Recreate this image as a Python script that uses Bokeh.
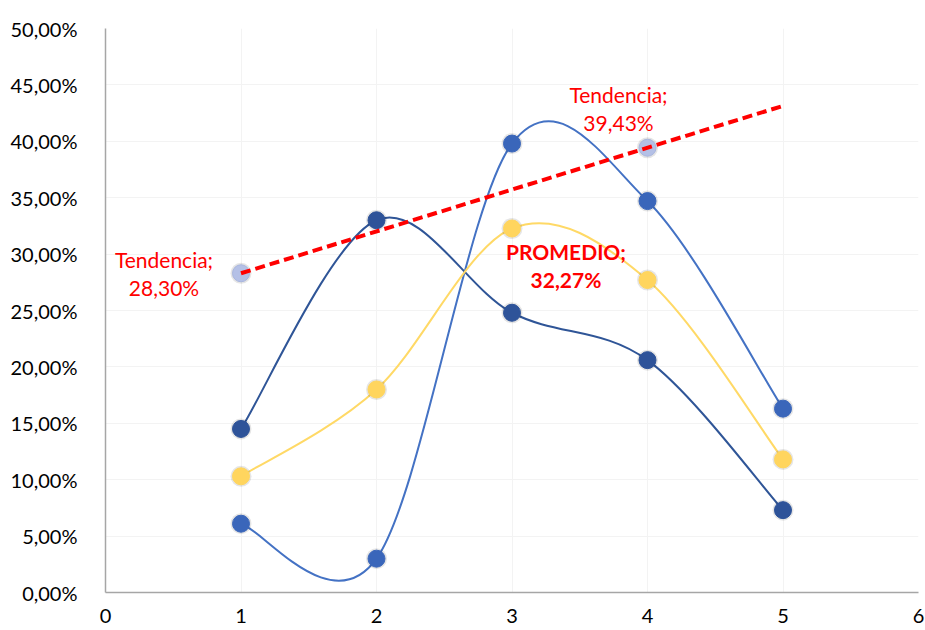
from bokeh.plotting import figure
from bokeh.models import FixedTicker, CustomJSTickFormatter, ColumnDataSource
from bokeh.core.properties import value
from bokeh.embed import file_html
from bokeh.resources import INLINE

x_vals = [1, 2, 3, 4, 5]
serie_a = [14.5, 33.0, 24.8, 20.6, 7.3]     # dark blue
serie_b = [6.1, 3.0, 39.8, 34.7, 16.3]      # medium blue
promedio = [10.3, 18.0, 32.27, 27.7, 11.8]  # yellow
trend_pts_x = [1, 4]
trend_pts_y = [28.30, 39.43]
trend_line_x = [1, 5]
trend_line_y = [28.30, 43.14]
y_ticks = [0, 5, 10, 15, 20, 25, 30, 35, 40, 45, 50]
x_ticks = [0, 1, 2, 3, 4, 5, 6]

FONT = "Lato"

p = figure(width=925, height=630, x_range=(0, 6), y_range=(0, 50),
           output_backend="svg", toolbar_location=None,
           min_border_left=105, min_border_right=7,
           min_border_top=28, min_border_bottom=38)
p.outline_line_color = None
p.background_fill_color = "white"

for ax in (p.xaxis[0], p.yaxis[0]):
    ax.axis_line_color = "#A6A6A6"
    ax.axis_line_width = 1.5
    ax.major_tick_line_color = None
    ax.minor_tick_line_color = None
    ax.major_label_text_font = FONT
    ax.major_label_text_font_size = "20px"
    ax.major_label_text_color = "#000000"

p.yaxis.ticker = FixedTicker(ticks=y_ticks)
p.xaxis.ticker = FixedTicker(ticks=x_ticks)
p.yaxis.formatter = CustomJSTickFormatter(code="return tick.toFixed(2).replace('.', ',') + '%';")
p.yaxis.major_label_standoff = 22
p.xaxis.major_label_standoff = 10

p.xgrid.grid_line_color = "#F3F3F3"
p.ygrid.grid_line_color = "#F3F3F3"
p.xgrid.ticker = FixedTicker(ticks=x_ticks)
p.ygrid.ticker = FixedTicker(ticks=y_ticks)


def smooth_segments(xs, ys):
    n = len(xs)
    d = dict(x0=[], y0=[], x1=[], y1=[], cx0=[], cy0=[], cx1=[], cy1=[])
    for i in range(n - 1):
        xp, yp = (xs[i - 1], ys[i - 1]) if i > 0 else (xs[i], ys[i])
        xn, yn = (xs[i + 2], ys[i + 2]) if i + 2 < n else (xs[i + 1], ys[i + 1])
        d["x0"].append(xs[i]); d["y0"].append(ys[i])
        d["x1"].append(xs[i + 1]); d["y1"].append(ys[i + 1])
        d["cx0"].append(xs[i] + (xs[i + 1] - xp) / 6)
        d["cy0"].append(ys[i] + (ys[i + 1] - yp) / 6)
        d["cx1"].append(xs[i + 1] - (xn - xs[i]) / 6)
        d["cy1"].append(ys[i + 1] - (yn - ys[i]) / 6)
    return ColumnDataSource(d)


series = [
    (serie_b, "#4472C4", "#3A66BA"),
    (serie_a, "#2F5597", "#2E5399"),
    (promedio, "#FFD966", "#FFD55E"),
]
for ys, lc, mc in series:
    p.bezier(x0="x0", y0="y0", x1="x1", y1="y1", cx0="cx0", cy0="cy0",
             cx1="cx1", cy1="cy1", source=smooth_segments(x_vals, ys),
             line_color=lc, line_width=2)

# marker shadows
for ys in (serie_b, serie_a, promedio, trend_pts_y):
    xs = trend_pts_x if ys is trend_pts_y else x_vals
    p.scatter(xs, ys, size=21, fill_color="#000000", fill_alpha=0.10,
              line_color=None)

for ys, lc, mc in series:
    p.scatter(x_vals, ys, size=17, fill_color=mc, line_color=mc, line_width=1)
p.scatter(trend_pts_x, trend_pts_y, size=17, fill_color="#B4C0E6",
          line_color="#A9B6DE")

# trend line (drawn over the trend markers as in reference)
p.line(trend_line_x, trend_line_y, line_color="#FF0000", line_width=4,
       line_dash="10 5")

# labels
p.text(x=[trend_pts_x[0]], y=[trend_pts_y[0]], text=["Tendencia;\n28,30%"],
       x_offset=-77, y_offset=0, text_align="center", text_baseline="middle",
       text_font=value(FONT), text_font_size="21px", text_color="#FF0000",
       text_line_height=1.1)
p.text(x=[trend_pts_x[1]], y=[trend_pts_y[1]], text=["Tendencia;\n39,43%"],
       x_offset=-29, y_offset=-39, text_align="center", text_baseline="middle",
       text_font=value(FONT), text_font_size="21px", text_color="#FF0000",
       text_line_height=1.1)
p.text(x=[3], y=[promedio[2]], text=["PROMEDIO;\n32,27%"],
       x_offset=54, y_offset=37, text_align="center", text_baseline="middle",
       text_font=value(FONT), text_font_size="21px", text_color="#FF0000",
       text_font_style="bold", text_line_height=1.1)

open("out.html", "w").write(file_html(p, INLINE))
